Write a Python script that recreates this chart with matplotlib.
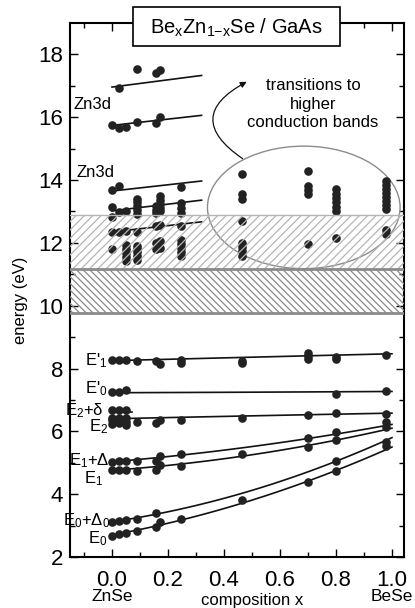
#!/usr/bin/env python3
# Critical point energies of BexZn1-xSe on GaAs vs. composition

import numpy as np
import matplotlib
matplotlib.use("Agg")
import matplotlib.pyplot as plt
from matplotlib.patches import Ellipse, Rectangle, FancyArrowPatch
from matplotlib.transforms import blended_transform_factory

plt.rcParams['font.family'] = ['Liberation Sans', 'DejaVu Sans']
plt.rcParams['mathtext.fontset'] = 'custom'
plt.rcParams['mathtext.rm'] = 'Liberation Sans'
plt.rcParams['mathtext.it'] = 'Liberation Sans:italic'
plt.rcParams['mathtext.default'] = 'regular'
plt.rcParams['hatch.linewidth'] = 0.9

# Measured transition energies (eV), one list per composition
x_comp = [0.0, 0.026, 0.05, 0.09, 0.157, 0.17, 0.245, 0.463, 0.70, 0.80, 0.98]
e_000 = [2.68, 3.12, 4.77, 5.03, 6.23, 6.35, 6.44, 6.67, 7.26, 8.26,
         11.82, 12.35, 12.83, 13.14, 13.67, 15.75]
e_026 = [2.72, 3.15, 4.77, 5.05, 6.26, 6.44, 6.67, 7.26, 8.26,
         12.35, 12.98, 13.82, 15.66, 16.93]
e_050 = [2.76, 3.19, 4.77, 5.06, 6.19, 6.30, 6.42, 6.69, 7.31, 8.26,
         11.43, 11.55, 11.68, 11.80, 11.93, 12.38, 13.00, 15.68]
e_090 = [2.83, 3.22, 4.75, 5.07, 6.29, 8.23,
         11.45, 11.57, 11.70, 11.82, 11.90, 12.35, 12.91, 13.04, 13.17,
         13.29, 13.41, 15.85, 17.53]
e_157 = [2.94, 3.39, 4.77, 5.05, 6.27, 8.23,
         11.80, 12.01, 12.54, 12.96, 13.06, 13.17, 15.81, 17.41]
e_170 = [3.12, 4.93, 5.21, 6.36, 8.16,
         11.85, 12.06, 12.57, 13.00, 13.12, 13.25, 13.37, 13.49, 16.00, 17.51]
e_245 = [3.21, 4.90, 5.28, 6.36, 8.19, 8.26,
         11.59, 11.71, 11.83, 11.96, 12.08, 12.54, 12.96, 13.12, 13.28, 13.78]
e_463 = [3.83, 5.28, 6.42, 8.17, 8.24,
         11.59, 11.73, 11.87, 12.01, 12.70, 13.41, 13.55, 14.20]
e_700 = [4.39, 5.51, 5.80, 6.51, 8.29, 8.39, 8.49,
         11.98, 13.57, 13.69, 13.81, 14.29]
e_800 = [4.74, 5.05, 5.72, 5.97, 6.57, 7.18, 8.29, 8.38,
         12.17, 13.02, 13.15, 13.29, 13.43, 13.56, 13.70]
e_980 = [5.53, 5.66, 6.13, 6.30, 6.56, 7.27, 8.44,
         12.29, 12.40, 13.07, 13.20, 13.33, 13.46, 13.59, 13.72, 13.85, 13.97]
energies = [e_000, e_026, e_050, e_090, e_157, e_170, e_245,
            e_463, e_700, e_800, e_980]

# Fit curves at x = 0, 0.314, 1.0
fit_x = [0.0, 0.314, 1.0]
fit_E0 = [2.70, 3.33, 5.50]
fit_E0D = [3.12, 3.67, 5.80]
fit_E1 = [4.76, 5.03, 6.10]
fit_E1D = [5.03, 5.31, 6.22]
fit_E2 = [6.40, 6.46, 6.58]
fit_Ep0 = [7.23, 7.24, 7.27]
fit_Ep1 = [8.25, 8.32, 8.47]

# Short Zn3d guide lines: (x start, x end), (E start, E end)
zn_x = [0.0, 0.32]
zn_lines = [[16.96, 17.33], [15.74, 16.06], [13.65, 13.97],
            [13.02, 13.36], [12.35, 12.67]]
e2d_x = [0.0, 0.07]
e2d_y = [6.63, 6.63]

# Labels: text, x, baseline energy
cp_labels = ["E'$_1$", "E'$_0$", "E$_2$+$\\delta$", "E$_2$",
             "E$_1$+$\\Delta$", "E$_1$", "E$_0$+$\\Delta_0$", "E$_0$"]
cp_label_x = [-0.015, -0.015, -0.03, -0.015, -0.008, -0.033, -0.005, -0.015]
cp_label_y = [8.11, 7.21, 6.52, 5.99, 4.93, 4.34, 3.02, 2.44]

# Energy bands (eV)
band_light = [11.18, 12.90]
band_dark = [9.77, 11.18]

dot_color = '#222222'
line_color = '#111111'

fig = plt.figure(figsize=(4.15, 6.08), dpi=100)
ax = fig.add_axes([70 / 415, 51 / 608, 334 / 415, 534 / 608])

# points
for xc, es in zip(x_comp, energies):
    ax.plot([xc] * len(es), es, 'o', color=dot_color, ms=6.2,
            mec='none', zorder=3)

# fitted curves
xx = np.linspace(0, 1, 100)
for fit in [fit_E0, fit_E0D, fit_E1, fit_E1D, fit_E2, fit_Ep0, fit_Ep1]:
    c = np.polyfit(fit_x, fit, 2)
    ax.plot(xx, np.polyval(c, xx), color=line_color, lw=1.2, zorder=2)

for ys in zn_lines:
    ax.plot(zn_x, ys, color=line_color, lw=1.2, zorder=2)
ax.plot(e2d_x, e2d_y, color=line_color, lw=1.2, zorder=2)

# hatched bands (drawn over the dots)
ax.axhspan(band_light[0], band_light[1], facecolor='none',
           edgecolor='#b5b5b5', hatch='////', lw=0, zorder=4)
ax.axhline(band_light[1], color='#b5b5b5', lw=1, zorder=4)
ax.axhspan(band_dark[0], band_dark[1], facecolor='none',
           edgecolor='#8a8a8a', hatch='\\\\\\\\\\', lw=0, zorder=4)
ax.axhline(band_dark[0], color='#8a8a8a', lw=2, zorder=4)
ax.axhline(band_dark[1], color='#8a8a8a', lw=2, zorder=4)

# ellipse and arrow
ax.add_patch(Ellipse((0.685, 13.13), 0.688, 3.9, facecolor='none',
                     edgecolor='#8c8c8c', lw=1, zorder=2))
ax.add_patch(FancyArrowPatch((0.475, 14.63), (0.49, 17.17),
                             connectionstyle='arc3,rad=-0.85',
                             arrowstyle='-|>', mutation_scale=9,
                             color='#111111', lw=0.9, zorder=5))
ax.text(0.718, 16.41, 'transitions to\nhigher\nconduction bands',
        ha='center', va='center', fontsize=12, linespacing=1.3)

# labels
for lab, lx, ly in zip(cp_labels, cp_label_x, cp_label_y):
    ax.text(lx, ly, lab, ha='right', va='baseline', fontsize=12, zorder=6)
ax.text(-0.138, 16.27, 'Zn3d', ha='left', va='baseline', fontsize=12)
ax.text(-0.126, 14.10, 'Zn3d', ha='left', va='baseline', fontsize=12)

# axes
ax.set_xlim(-0.15, 1.043)
ax.set_ylim(2, 19)
ax.set_xticks([0.0, 0.2, 0.4, 0.6, 0.8, 1.0])
ax.set_xticklabels(['0.0', '0.2', '0.4', '0.6', '0.8', '1.0'])
ax.set_xticks(np.arange(-0.1, 1.05, 0.1), minor=True)
ax.set_yticks([2, 4, 6, 8, 10, 12, 14, 16, 18])
ax.set_yticks(np.arange(3, 19, 2), minor=True)
ax.tick_params(which='both', direction='in', top=True, right=True,
               width=1, labelsize=16)
ax.tick_params(which='major', length=6)
ax.tick_params(which='minor', length=3.5)
ax.tick_params(axis='x', pad=9)
ax.tick_params(axis='y', pad=5)
for sp in ax.spines.values():
    sp.set_linewidth(1.5)

ax.set_ylabel('energy (eV)', fontsize=12)
ax.yaxis.set_label_coords(-0.125, 0.48)

trans = blended_transform_factory(ax.transData, fig.transFigure)
ax.text(0.0, 0.011, 'ZnSe', transform=trans, ha='center', va='baseline',
        fontsize=12.5)
ax.text(1.0, 0.011, 'BeSe', transform=trans, ha='center', va='baseline',
        fontsize=12.5)
ax.text(0.5, 0.005, 'composition x', transform=trans, ha='center',
        va='baseline', fontsize=12)

# title box
fig.patches.append(Rectangle((133 / 415, 1 - 46 / 608), 207 / 415, 39 / 608,
                             transform=fig.transFigure, facecolor='white',
                             edgecolor='black', lw=1.2, zorder=10))
fig.text(236.5 / 415, 1 - 28 / 608, 'Be$_x$Zn$_{1{-}x}$Se / GaAs',
         ha='center', va='center', fontsize=14.5, zorder=11)

fig.savefig('out.png', dpi=100)
